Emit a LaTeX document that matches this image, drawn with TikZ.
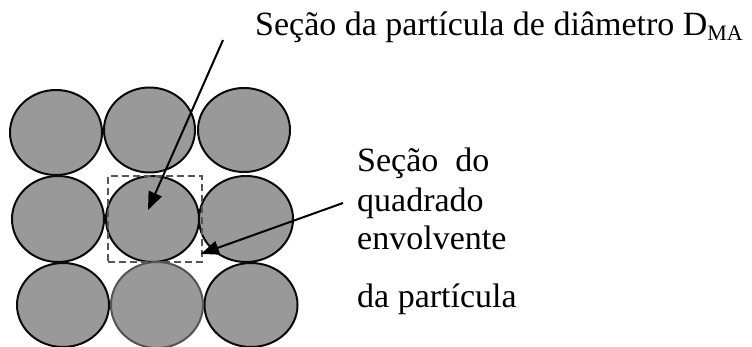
\documentclass[tikz,border=0pt]{standalone}
\usepackage{fontspec}
\setmainfont{Liberation Serif}
\usepackage{xcolor}
\usepackage{tikz}
\usetikzlibrary{arrows.meta,positioning,calc,shapes.geometric}
\definecolor{GrainFill}{HTML}{999999}
\definecolor{GrainEdge}{HTML}{0A0A0A}
\definecolor{CellDash}{HTML}{555555}

\tikzset{
  grain/.style={ellipse,fill=GrainFill,draw=GrainEdge,line width=2pt,inner sep=0pt},
  cellbox/.style={draw=CellDash,dashed,dash pattern=on 7pt off 4pt,line width=1.8pt,inner sep=0pt},
  callout/.style={-{Triangle[length=18pt,width=14pt]},line width=2pt,black},
  labeltext/.style={inner sep=0pt,font=\fontsize{34}{39}\selectfont,align=left}
}

\begin{document}
\begin{tikzpicture}[x=1pt,y=-1pt]
  \useasboundingbox (0,0) rectangle (752,347);
  % Grid of particle sections.
  \foreach \n/\cx/\cy/\rx/\ry in {p11/56/132.5/46/42.5, p12/149.5/130/45.5/42.5,
      p13/244/130/46/42, p21/58/219/46/43, p22/152.5/219/46.5/43,
      p23/246/219/47/43, p31/63/305/46/42, p33/251/305/46.5/42}
    \node[grain,minimum width=2*\rx pt,minimum height=2*\ry pt] (\n) at (\cx,\cy) {};
  \node[grain,draw=CellDash,minimum width=92pt,minimum height=86pt] (p32) at (157,305) {};
  % Enclosing square of the middle particle.
  \node[cellbox,minimum width=94pt,minimum height=86pt] (cell) at (155,219) {};
  % Labels.
  \node[labeltext,anchor=base west] (diam) at (255,36)
       {Seção da partícula de diâmetro D\raisebox{-5pt}{\fontsize{22}{22}\selectfont MA}};
  \node[labeltext,anchor=base west] (square) at (357,172)
       {Seção\ \ do};
  \node[labeltext,anchor=base west] (square2) at (357,212) {quadrado};
  \node[labeltext,anchor=base west] (square3) at (357,250) {envolvente};
  \node[labeltext,anchor=base west] (square4) at (357,307) {da partícula};
  % Arrows.
  \coordinate (diamtail) at (223,40);
  \coordinate (celltail) at (343,203);
  \draw[callout] (diamtail) -- ([shift={(-4.5,-9)}]p22.center);
  \draw[callout] (celltail) -- ([shift={(-2,-9)}]cell.south east);
\end{tikzpicture}
\end{document}
